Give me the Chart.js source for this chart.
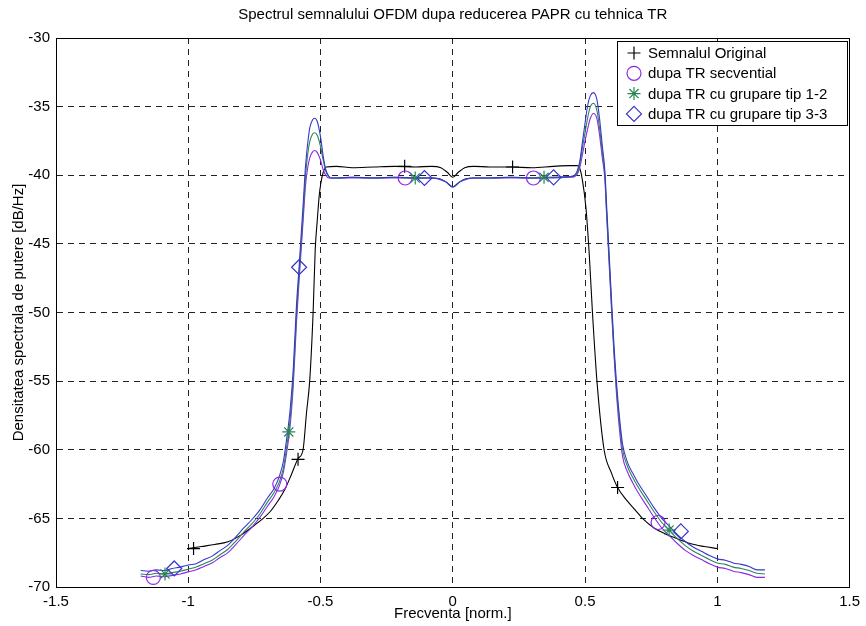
<!DOCTYPE html>
<html>
<head>
<meta charset="utf-8">
<script src="https://cdn.jsdelivr.net/npm/chart.js@4.4.0/dist/chart.umd.min.js"></script>
<style>
  html, body { margin: 0; padding: 0; background: #fff; }
  #wrap { width: 866px; height: 626px; }
</style>
</head>
<body>
<div id="wrap"><canvas id="psd"></canvas></div>
<script>
const chartTitle = 'Spectrul semnalului OFDM dupa reducerea PAPR cu tehnica TR'
const xTitle = 'Frecventa [norm.]'
const yTitle = 'Densitatea spectrala de putere [dB/Hz]'
const xTicks = [-1.5, -1, -0.5, 0, 0.5, 1, 1.5]
const yTicks = [-70, -65, -60, -55, -50, -45, -40, -35, -30]

// semnalul original (black)
const freqOrig = [-1.0, -0.95, -0.9, -0.85, -0.8, -0.75, -0.72, -0.69, -0.66, -0.635, -0.61, -0.585, -0.566, -0.553, -0.541, -0.528, -0.52, -0.512, -0.505, -0.499, -0.49, -0.478,
    -0.44, -0.38, -0.3, -0.22, -0.14, -0.08, -0.045, -0.02, 0, 0.02, 0.045, 0.08, 0.14, 0.22, 0.3, 0.38, 0.44, 0.47,
    0.478, 0.49, 0.503, 0.516, 0.528, 0.545, 0.572, 0.6, 0.623, 0.654, 0.69, 0.717, 0.761, 0.8, 0.837, 0.9, 0.95, 1.0]
const psdOrig = [-67.2, -67.05, -66.9, -66.7, -66.2, -65.5, -65.05, -64.5, -63.7, -62.9, -61.8, -60.65, -60.0, -57.3, -55.0, -50.0, -45.4, -43.2, -41.5, -40.6, -39.8, -39.4,
    -39.35, -39.45, -39.4, -39.35, -39.4, -39.35, -39.45, -39.8, -40.15, -39.8, -39.45, -39.35, -39.4, -39.4, -39.45, -39.35, -39.3, -39.3,
    -39.4, -40.35, -42.3, -45.8, -50.0, -55.0, -60.0, -61.7, -62.75, -63.6, -64.4, -65.0, -65.7, -66.1, -66.4, -66.85, -67.05, -67.2]

// the three TR curves share one frequency grid
const freqTR = [-1.18, -1.15, -1.12, -1.09, -1.06, -1.03, -1.0, -0.97, -0.94, -0.91, -0.88, -0.85, -0.82, -0.79, -0.76, -0.73, -0.7,
    -0.675, -0.655, -0.64, -0.628, -0.615, -0.603, -0.591, -0.58, -0.572, -0.564, -0.557,
    -0.548, -0.54, -0.53, -0.522, -0.512, -0.5, -0.49, -0.48, -0.47, -0.46,
    -0.44, -0.38, -0.3, -0.22, -0.14, -0.08, -0.05, -0.025, 0, 0.025, 0.05, 0.08, 0.14, 0.22, 0.3, 0.38, 0.44,
    0.46, 0.47, 0.48, 0.49, 0.5, 0.51, 0.52, 0.532, 0.545, 0.555, 0.565, 0.575,
    0.581, 0.588, 0.595, 0.602, 0.61, 0.618, 0.63, 0.642,
    0.66, 0.68, 0.7, 0.73, 0.76, 0.79, 0.82, 0.85, 0.88, 0.91, 0.94, 0.97, 1.0, 1.03, 1.06, 1.09, 1.12, 1.15, 1.18]
const psdSecv = [-69.2, -69.3, -69.2, -69.25, -69.15, -69.05, -68.9, -68.75, -68.5, -68.25, -67.85, -67.5, -66.9, -66.25, -65.65, -64.95, -64.1,
    -63.4, -62.6, -61.6, -60.2, -58.3, -55.3, -50.8, -47.4, -45.1, -42.8, -40.8,
    -39.4, -38.7, -38.3, -38.2, -38.35, -38.9, -39.6, -40.0, -40.2, -40.2,
    -40.2, -40.2, -40.2, -40.2, -40.2, -40.2, -40.3, -40.5, -40.85, -40.5, -40.3, -40.2, -40.2, -40.2, -40.2, -40.2, -40.15,
    -40.1, -39.95, -39.45, -38.5, -37.5, -36.6, -35.85, -35.5, -35.9, -37.1, -38.7, -40.3,
    -42.7, -45.3, -47.9, -50.5, -53.3, -55.7, -58.5, -60.5,
    -61.6, -62.4, -63.1, -64.0, -64.9, -65.7, -66.3, -66.85, -67.35, -67.7, -68.0, -68.3, -68.55, -68.65, -68.85, -68.95, -69.1, -69.3, -69.3]
const psdGrup12 = [-69.05, -69.1, -69.0, -69.05, -68.95, -68.85, -68.7, -68.55, -68.3, -68.05, -67.65, -67.25, -66.65, -66.0, -65.4, -64.7, -63.8,
    -63.1, -62.3, -61.3, -59.8, -57.8, -54.8, -50.2, -46.9, -44.6, -42.3, -40.2,
    -38.4, -37.5, -37.0, -36.9, -37.1, -37.9, -38.9, -39.7, -40.05, -40.2,
    -40.2, -40.15, -40.2, -40.15, -40.2, -40.2, -40.25, -40.5, -40.85, -40.5, -40.25, -40.2, -40.2, -40.15, -40.2, -40.15, -40.1,
    -40.05, -39.85, -39.2, -38.0, -36.9, -35.8, -35.0, -34.75, -35.3, -36.6, -38.3, -40.0,
    -42.4, -45.0, -47.6, -50.2, -53.0, -55.3, -58.0, -60.0,
    -61.2, -62.0, -62.7, -63.6, -64.5, -65.3, -65.9, -66.5, -67.0, -67.4, -67.7, -68.0, -68.25, -68.35, -68.55, -68.65, -68.8, -69.0, -69.05]
const psdGrup33 = [-68.8, -68.85, -68.75, -68.8, -68.65, -68.55, -68.4, -68.3, -68.0, -67.75, -67.35, -66.95, -66.35, -65.7, -65.1, -64.4, -63.5,
    -62.8, -61.9, -60.8, -59.2, -57.1, -54.1, -49.5, -46.4, -44.0, -41.6, -39.4,
    -37.6, -36.5, -35.95, -35.85, -36.1, -37.2, -38.6, -39.6, -40.05, -40.2,
    -40.2, -40.15, -40.2, -40.15, -40.2, -40.2, -40.25, -40.5, -40.85, -40.5, -40.25, -40.2, -40.2, -40.15, -40.2, -40.15, -40.1,
    -40.0, -39.7, -39.0, -37.6, -36.2, -34.9, -34.2, -33.98, -34.5, -35.9, -37.8, -39.7,
    -42.0, -44.6, -47.2, -49.8, -52.6, -54.9, -57.6, -59.6,
    -60.9, -61.7, -62.4, -63.3, -64.2, -65.0, -65.6, -66.2, -66.7, -67.1, -67.4, -67.7, -67.95, -68.05, -68.25, -68.35, -68.5, -68.75, -68.75]

// marker positions (markers are sparse, like in the matlab plot)
const markOrigX = [-0.98, -0.585, -0.182, 0.226, 0.623]
const markOrigY = [-67.2, -60.7, -39.35, -39.4, -62.75]
const markSecvX = [-1.132, -0.654, -0.18, 0.305, 0.776]
const markSecvY = [-69.3, -62.5, -40.2, -40.2, -65.3]
const markGrup12X = [-1.088, -0.62, -0.142, 0.345, 0.818]
const markGrup12Y = [-69.05, -58.7, -40.2, -40.15, -65.85]
const markGrup33X = [-1.053, -0.581, -0.107, 0.381, 0.862]
const markGrup33Y = [-68.65, -46.7, -40.2, -40.15, -65.95]

const legendLabels = ['Semnalul Original', 'dupa TR secvential', 'dupa TR cu grupare tip 1-2', 'dupa TR cu grupare tip 3-3']
const colors = ['#000000', 'rgb(140,40,230)', 'rgb(40,135,85)', 'rgb(55,55,205)']
const markers = [
    { style: 'cross', r: 6.5 },
    { style: 'circle', r: 7 },
    { style: 'star', r: 6.5 },
    { style: 'rectRot', r: 7.5 }
]

const FONT = 'Liberation Sans, Arial, Helvetica, sans-serif'
const FSIZE = 15
Chart.defaults.font.family = FONT
Chart.defaults.color = '#000'

function pts(xs, ys) {
    return xs.map((x, i) => ({ x: x, y: ys[i] }))
}

function curve(xs, ys, idx) {
    return {
        data: pts(xs, ys),
        showLine: true,
        borderColor: colors[idx],
        borderWidth: 1.1,
        pointRadius: 0,
        cubicInterpolationMode: 'monotone',
        order: 10 - idx
    }
}

function marks(xs, ys, idx) {
    return {
        label: legendLabels[idx],
        data: pts(xs, ys),
        showLine: false,
        pointStyle: markers[idx].style,
        pointRadius: markers[idx].r,
        pointBorderColor: colors[idx],
        pointBackgroundColor: 'rgba(0,0,0,0)',
        pointBorderWidth: 1.2,
        order: 5 - idx
    }
}

// same pixel snapping as chart.js uses for its grid lines
function snap(p) {
    return Math.round(p - 0.5) + 0.5
}

// box round the plot, title over the axes, legend - matlab style
const boxAndLegend = {
    id: 'boxAndLegend',
    afterDatasetsDraw(chart) {
        const ctx = chart.ctx
        const a = chart.chartArea
        const l = snap(a.left), t = snap(a.top)
        const r = snap(a.right), b = snap(a.bottom)
        ctx.save()
        ctx.strokeStyle = '#000'
        ctx.lineWidth = 1
        ctx.strokeRect(l, t, r - l, b - t)

        ctx.fillStyle = '#000'
        ctx.font = FSIZE + 'px ' + FONT
        ctx.textAlign = 'center'
        ctx.textBaseline = 'middle'
        ctx.fillText(chartTitle, (a.left + a.right) / 2, 15)

        // legend box
        const w = 230, h = 84
        const lx = Math.round(r - 3 - w), ly = Math.round(t + 2)
        ctx.fillStyle = '#fff'
        ctx.fillRect(lx, ly, w, h)
        ctx.strokeRect(lx + 0.5, ly + 0.5, w, h)
        ctx.textAlign = 'left'
        legendLabels.forEach((txt, i) => {
            const cy = ly + 12 + i * 20.3
            ctx.strokeStyle = colors[i]
            ctx.fillStyle = 'rgba(0,0,0,0)'
            ctx.lineWidth = 1.2
            Chart.helpers.drawPoint(ctx, { pointStyle: markers[i].style, radius: markers[i].r, borderWidth: 1.2, rotation: 0 }, lx + 17, cy)
            ctx.fillStyle = '#000'
            ctx.fillText(txt, lx + 31, cy + 1)
        })
        ctx.restore()
    }
}

const ctx = document.getElementById('psd').getContext('2d')
const psdChart = new Chart(ctx, {
    type: 'scatter',
    data: {
        datasets: [
            curve(freqOrig, psdOrig, 0),
            curve(freqTR, psdSecv, 1),
            curve(freqTR, psdGrup12, 2),
            curve(freqTR, psdGrup33, 3),
            marks(markOrigX, markOrigY, 0),
            marks(markSecvX, markSecvY, 1),
            marks(markGrup12X, markGrup12Y, 2),
            marks(markGrup33X, markGrup33Y, 3)
        ]
    },
    options: {
        responsive: true,
        maintainAspectRatio: false,
        animation: false,
        layout: { padding: { left: 0, right: 15, top: 38, bottom: 0 } },
        plugins: {
            legend: { display: false },
            tooltip: { enabled: false },
            title: { display: false }
        },
        scales: {
            x: {
                type: 'linear',
                min: -1.5,
                max: 1.5,
                afterBuildTicks: (s) => { s.ticks = xTicks.map(v => ({ value: v })) },
                afterFit: (s) => { s.height = 39 },
                ticks: { color: '#000', font: { size: FSIZE }, padding: 6, maxRotation: 0, callback: (v) => String(v) },
                grid: { color: '#222', lineWidth: 1, drawTicks: false },
                border: { display: true, color: '#000', dash: [6, 5] },
                title: { display: true, text: xTitle, color: '#000', font: { size: FSIZE }, padding: { top: 0, bottom: 3 } }
            },
            y: {
                type: 'linear',
                min: -70,
                max: -30,
                afterBuildTicks: (s) => { s.ticks = yTicks.map(v => ({ value: v })) },
                afterFit: (s) => { s.width = 56 },
                ticks: { color: '#000', font: { size: FSIZE }, padding: 6, callback: (v) => String(v) },
                grid: { color: '#222', lineWidth: 1, drawTicks: false },
                border: { display: true, color: '#000', dash: [6, 5] },
                title: { display: true, text: yTitle, color: '#000', font: { size: FSIZE }, padding: { top: 10, bottom: 0 } }
            }
        }
    },
    plugins: [boxAndLegend]
})
</script>
</body>
</html>
